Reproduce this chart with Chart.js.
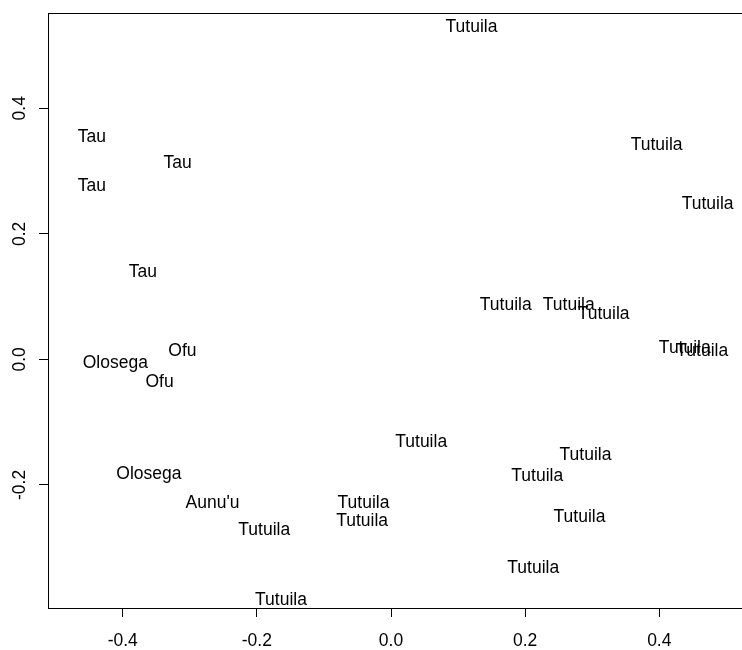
<!DOCTYPE html>
<html>
<head>
<meta charset="utf-8">
<script src="https://cdn.jsdelivr.net/npm/chart.js@4"></script>
<style>
  html, body { margin: 0; padding: 0; background: #fff; }
</style>
</head>
<body>
<canvas id="chart" width="742" height="650"></canvas>
<script>
// island label for each sample, with its two coordinates
const islands = [
  'Tutuila', 'Tau', 'Tau', 'Tau', 'Tau', 'Ofu', 'Olosega', 'Ofu', 'Olosega', "Aunu'u",
  'Tutuila', 'Tutuila', 'Tutuila', 'Tutuila', 'Tutuila', 'Tutuila', 'Tutuila', 'Tutuila',
  'Tutuila', 'Tutuila', 'Tutuila', 'Tutuila', 'Tutuila', 'Tutuila', 'Tutuila', 'Tutuila'
];
const xs = [
  0.120, -0.446, -0.318, -0.446, -0.370, -0.311, -0.411, -0.345, -0.361, -0.266,
  -0.189, -0.164, 0.045, -0.041, -0.043, 0.218, 0.290, 0.281,
  0.212, 0.396, 0.472, 0.171, 0.265, 0.317, 0.438, 0.464
];
const ys = [
  0.531, 0.357, 0.315, 0.279, 0.141, 0.016, -0.003, -0.034, -0.181, -0.227,
  -0.269, -0.381, -0.130, -0.227, -0.256, -0.184, -0.151, -0.249,
  -0.330, 0.343, 0.250, 0.089, 0.089, 0.074, 0.021, 0.016
];
const xTicks = [-0.4, -0.2, 0.0, 0.2, 0.4];
const yTicks = [-0.2, 0.0, 0.2, 0.4];

const FONT = { family: '"Liberation Sans", Arial, Helvetica, sans-serif', size: 17.5 };

// draw the island names centred on each point, like R's text()
const textLabels = {
  id: 'textLabels',
  afterDatasetsDraw(chart) {
    const ctx = chart.ctx;
    const xScale = chart.scales.x;
    const yScale = chart.scales.y;
    ctx.save();
    ctx.font = `${FONT.size}px ${FONT.family}`;
    ctx.fillStyle = '#000';
    ctx.textAlign = 'center';
    ctx.textBaseline = 'alphabetic';
    const capMid = FONT.size * 0.36; // centre on cap height
    chart.data.datasets[0].data.forEach((p, i) => {
      ctx.fillText(islands[i], xScale.getPixelForValue(p.x), yScale.getPixelForValue(p.y) + capMid);
    });
    ctx.restore();
  },
};

// plot frame (box around the plot region)
const frame = {
  id: 'frame',
  afterDraw(chart) {
    const { left, top, right, bottom } = chart.chartArea;
    const ctx = chart.ctx;
    ctx.save();
    ctx.strokeStyle = '#000';
    ctx.lineWidth = 1;
    ctx.strokeRect(Math.round(left) + 0.5, Math.round(top) + 0.5,
      Math.round(right - left), Math.round(bottom - top));
    ctx.restore();
  },
};

new Chart(document.getElementById('chart').getContext('2d'), {
  type: 'scatter',
  data: {
    datasets: [
      {
        label: 'island',
        data: xs.map((x, i) => ({ x: x, y: ys[i] })),
        pointRadius: 0,
        pointHoverRadius: 0,
      },
    ],
  },
  options: {
    responsive: false,
    animation: false,
    devicePixelRatio: 1,
    layout: { padding: { top: 13, right: 0, left: 0, bottom: 0 } },
    plugins: {
      legend: { display: false },
      tooltip: { enabled: false },
      title: { display: false },
    },
    scales: {
      x: {
        type: 'linear',
        min: -0.5114,
        max: 0.5233,
        afterBuildTicks: (axis) => { axis.ticks = xTicks.map((v) => ({ value: v })); },
        afterFit: (axis) => {
          axis.height = 42;
          axis.paddingLeft = 0;
          axis.paddingRight = 0;
        },
        border: { display: false },
        grid: { display: true, drawOnChartArea: false, drawTicks: true, tickLength: 9, color: '#000' },
        ticks: {
          color: '#000',
          font: FONT,
          padding: 14,
          maxRotation: 0,
          autoSkip: false,
          callback: (v) => Number(v).toFixed(1),
        },
      },
      y: {
        type: 'linear',
        min: -0.396,
        max: 0.5518,
        afterBuildTicks: (axis) => { axis.ticks = yTicks.map((v) => ({ value: v })); },
        afterFit: (axis) => {
          axis.width = 48;
          axis.paddingTop = 0;
          axis.paddingBottom = 0;
        },
        border: { display: false },
        grid: { display: true, drawOnChartArea: false, drawTicks: true, tickLength: 9, color: '#000' },
        ticks: {
          color: '#000',
          font: FONT,
          padding: 4,
          minRotation: 90,
          maxRotation: 90,
          crossAlign: 'center',
          autoSkip: false,
          callback: (v) => Number(v).toFixed(1),
        },
      },
    },
  },
  plugins: [textLabels, frame],
});
</script>
</body>
</html>
